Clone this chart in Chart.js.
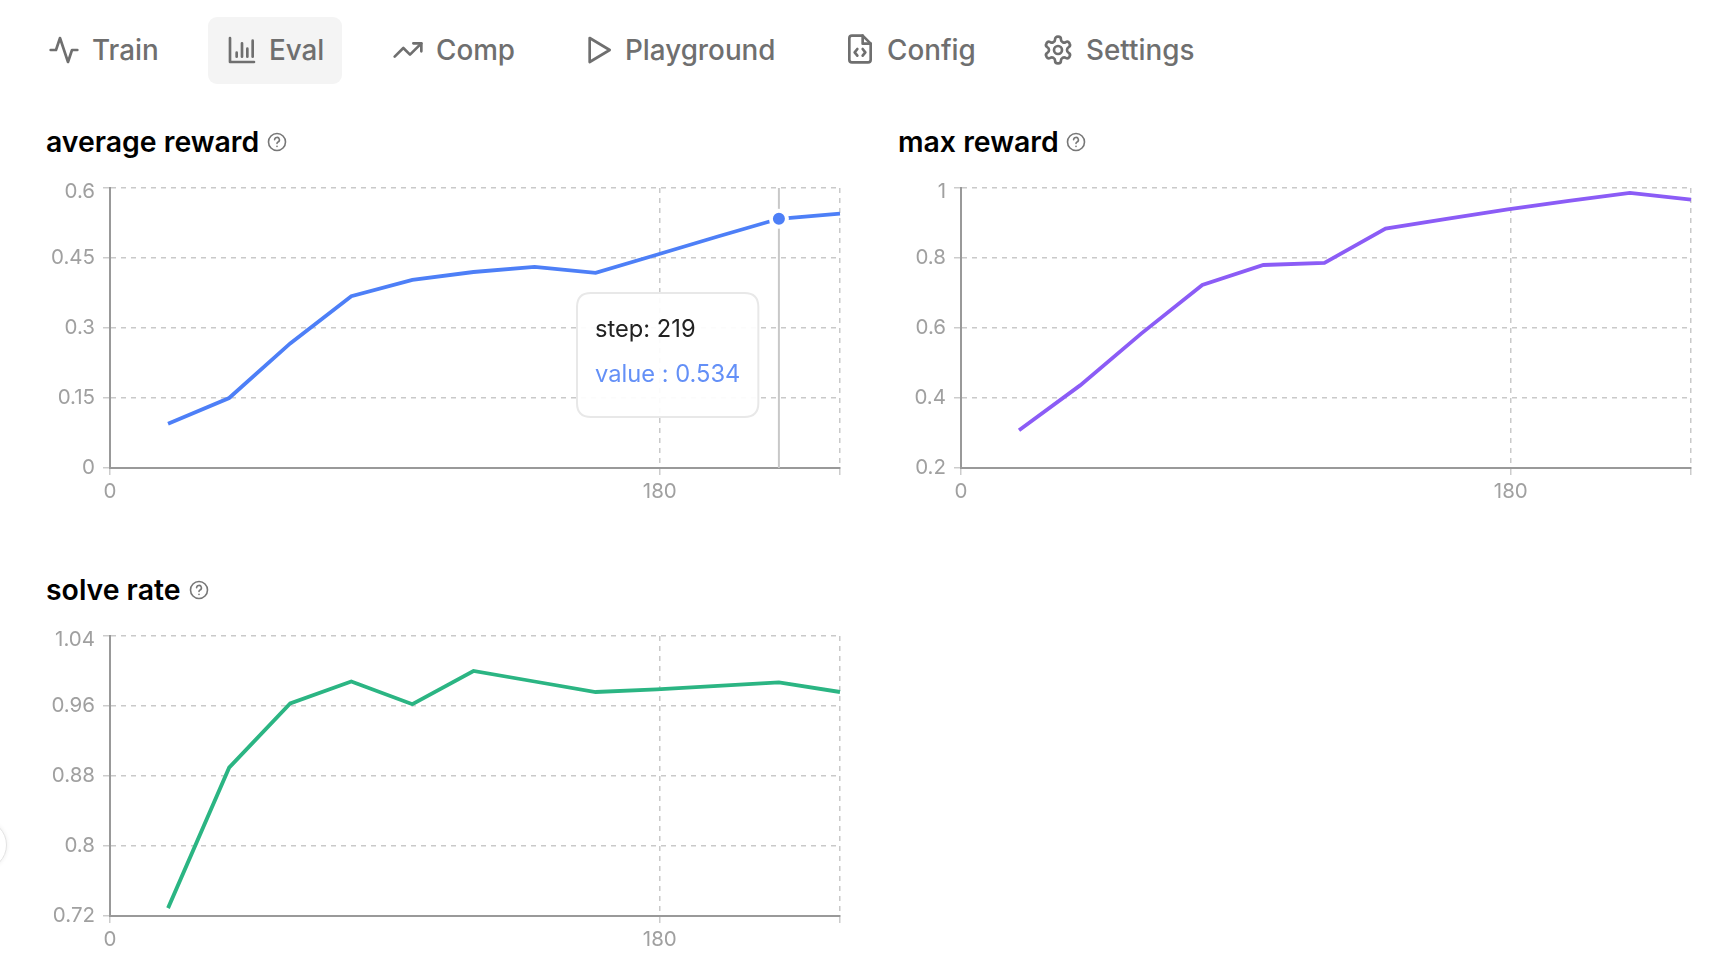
<!DOCTYPE html>
<html>
<head>
<meta charset="utf-8">
<title>Eval</title>
<script src="https://cdn.jsdelivr.net/npm/chart.js@4/dist/chart.umd.min.js"></script>
<style>
  html, body { margin: 0; padding: 0; background: #fff; overflow: hidden; }
  body { width: 1736px; height: 978px; position: relative; font-family: Inter, sans-serif; }
  .abs { position: absolute; }
  .tab-bg { left: 208px; top: 17px; width: 134px; height: 67px; background: #f4f4f4; border-radius: 9px; }
  .tab { font-size: 27.8px; font-weight: 500; color: #6f6f6f; top: 33px; line-height: 34px; white-space: nowrap; }
  .icon { stroke: #6f6f6f; fill: none; stroke-width: 2; stroke-linecap: round; stroke-linejoin: round; }
  .title { font-size: 28.4px; font-weight: 600; color: #000; line-height: 34px; white-space: nowrap; }
  .help { stroke: #777; fill: none; stroke-width: 1.6; stroke-linecap: round; stroke-linejoin: round; }
  canvas { position: absolute; }
  .bump { left: -43px; top: 820px; width: 48px; height: 48px; border-radius: 50%; background: #fff; border: 1px solid #e4e4e4; box-shadow: 0 0 4px rgba(0,0,0,.08); }
</style>
</head>
<body>
  <div class="abs tab-bg"></div>

  <svg class="abs icon" style="left:48px;top:34px" width="32" height="32" viewBox="0 0 24 24"><path d="M22 12h-4l-3 9L9 3l-3 9H2"/></svg>
  <div class="abs tab" style="left:92px">Train</div>

  <svg class="abs icon" style="left:226px;top:34px" width="32" height="32" viewBox="0 0 24 24"><path d="M3 3v18h18"/><path d="M8 17v-3M12 17V7M16 17v-6M20 17V5"/></svg>
  <div class="abs tab" style="left:269px">Eval</div>

  <svg class="abs icon" style="left:392px;top:34px" width="32" height="32" viewBox="0 0 24 24"><path d="M22 7l-8.5 8.5-5-5L2 17"/><path d="M16 7h6v6"/></svg>
  <div class="abs tab" style="left:436px">Comp</div>

  <svg class="abs icon" style="left:583px;top:34px" width="32" height="32" viewBox="0 0 24 24"><path d="M5 3l15 9-15 9V3z"/></svg>
  <div class="abs tab" style="left:625px">Playground</div>

  <svg class="abs icon" style="left:844px;top:33px" width="32" height="32" viewBox="0 0 24 24"><path d="M14 2H6a2 2 0 0 0-2 2v16a2 2 0 0 0 2 2h12a2 2 0 0 0 2-2V8z"/><path d="M14 2v6h6"/><path d="M10 12l-2 2.5 2 2.5M14 12l2 2.5-2 2.5"/></svg>
  <div class="abs tab" style="left:887px">Config</div>

  <svg class="abs icon" style="left:1042px;top:34px" width="32" height="32" viewBox="0 0 24 24"><path d="M12.2 2h-.4a2 2 0 0 0-2 2v.2a2 2 0 0 1-1 1.7l-.4.3a2 2 0 0 1-2 0l-.2-.1a2 2 0 0 0-2.7.7l-.2.4a2 2 0 0 0 .7 2.7l.2.1a2 2 0 0 1 1 1.7v.5a2 2 0 0 1-1 1.8l-.2.1a2 2 0 0 0-.7 2.7l.2.4a2 2 0 0 0 2.7.7l.2-.1a2 2 0 0 1 2 0l.4.3a2 2 0 0 1 1 1.7v.2a2 2 0 0 0 2 2h.4a2 2 0 0 0 2-2v-.2a2 2 0 0 1 1-1.7l.4-.3a2 2 0 0 1 2 0l.2.1a2 2 0 0 0 2.7-.7l.2-.4a2 2 0 0 0-.7-2.7l-.2-.1a2 2 0 0 1-1-1.8v-.5a2 2 0 0 1 1-1.7l.2-.1a2 2 0 0 0 .7-2.7l-.2-.4a2 2 0 0 0-2.7-.7l-.2.1a2 2 0 0 1-2 0l-.4-.3a2 2 0 0 1-1-1.7V4a2 2 0 0 0-2-2z"/><circle cx="12" cy="12" r="3"/></svg>
  <div class="abs tab" style="left:1086px">Settings</div>

  <div class="abs title" style="left:46px;top:125px">average reward</div>
  <svg class="abs help" style="left:267px;top:132px" width="20" height="20" viewBox="0 0 20 20"><circle cx="10" cy="10" r="8.5"/><path d="M7.6 7.8a2.4 2.4 0 1 1 3.4 2.2c-.7.3-1 .7-1 1.5"/><path d="M10 14.4v.1"/></svg>

  <div class="abs title" style="left:898px;top:125px">max reward</div>
  <svg class="abs help" style="left:1066px;top:132px" width="20" height="20" viewBox="0 0 20 20"><circle cx="10" cy="10" r="8.5"/><path d="M7.6 7.8a2.4 2.4 0 1 1 3.4 2.2c-.7.3-1 .7-1 1.5"/><path d="M10 14.4v.1"/></svg>

  <div class="abs title" style="left:46px;top:573px">solve rate</div>
  <svg class="abs help" style="left:189px;top:580px" width="20" height="20" viewBox="0 0 20 20"><circle cx="10" cy="10" r="8.5"/><path d="M7.6 7.8a2.4 2.4 0 1 1 3.4 2.2c-.7.3-1 .7-1 1.5"/><path d="M10 14.4v.1"/></svg>

  <canvas id="avgChart" style="left:30px;top:170px"></canvas>
  <canvas id="maxChart" style="left:881px;top:170px"></canvas>
  <canvas id="solveChart" style="left:30px;top:618px"></canvas>

  <div class="abs bump"></div>

<script>
// values
const steps = [19, 39, 59, 79, 99, 119, 139, 159, 179, 199, 219, 239];
const avgReward = [0.095, 0.15, 0.267, 0.368, 0.403, 0.42, 0.431, 0.418, 0.457, 0.496, 0.534, 0.545];
const maxReward = [0.308, 0.436, 0.584, 0.723, 0.78, 0.786, 0.884, 0.912, 0.939, 0.963, 0.986, 0.967];
const solveRate = [0.729, 0.8895, 0.963, 0.988, 0.962, 1.0, 0.988, 0.976, 0.979, 0.983, 0.987, 0.976];

const xTicks = [0, 180, 239];
const xLabels = ['0', '180', ''];
const avgTicks = [0, 0.15, 0.3, 0.45, 0.6];
const maxTicks = [0.2, 0.4, 0.6, 0.8, 1];
const solveTicks = [0.72, 0.8, 0.88, 0.96, 1.04];

const activeIndex = 10; // step 219 on the first chart

// crosshair under the hovered point
const crosshair = {
  id: 'crosshair',
  beforeDatasetsDraw(chart) {
    const active = chart.getActiveElements();
    if (!active.length) return;
    const { ctx, chartArea } = chart;
    ctx.save();
    ctx.strokeStyle = '#c8c8c8';
    ctx.lineWidth = 2;
    ctx.beginPath();
    ctx.moveTo(active[0].element.x, chartArea.top);
    ctx.lineTo(active[0].element.x, chartArea.bottom);
    ctx.stroke();
    ctx.restore();
  }
};

Chart.Tooltip.positioners.fixedBox = function (items) {
  if (!items.length) return false;
  return { x: this.chart.chartArea.left + 467, y: this.chart.chartArea.top + 167 };
};

function makeChart(id, values, yTicks, color) {
  const canvas = document.getElementById(id);
  canvas.width = 815;
  canvas.height = 332;
  canvas.style.width = '815px';
  canvas.style.height = '332px';
  const topIndex = yTicks.length - 1;
  return new Chart(canvas, {
    type: 'line',
    data: {
      datasets: [{
        data: steps.map((s, i) => ({ x: s, y: values[i] })),
        borderColor: color,
        backgroundColor: color,
        borderWidth: 3.8,
        tension: 0,
        pointRadius: 0,
        pointHoverRadius: 8,
        pointHoverBackgroundColor: color,
        pointHoverBorderColor: '#fff',
        pointHoverBorderWidth: 4,
        clip: false
      }]
    },
    options: {
      responsive: false,
      animation: false,
      events: [],
      layout: { padding: { top: 18, right: 0, left: 0, bottom: 0 } },
      plugins: {
        legend: { display: false },
        tooltip: {
          position: 'fixedBox',
          xAlign: 'left',
          yAlign: 'center',
          caretSize: 0,
          caretPadding: 0,
          backgroundColor: 'rgba(255,255,255,0.92)',
          borderColor: '#e8e8e8',
          borderWidth: 2,
          cornerRadius: 14,
          displayColors: false,
          padding: { left: 18, right: 18, top: 23, bottom: 28 },
          titleColor: '#222',
          titleFont: { family: 'Inter', size: 23.7, weight: '400' },
          titleMarginBottom: 16,
          bodyColor: '#6490f7',
          bodyFont: { family: 'Inter', size: 23.7, weight: '400' },
          callbacks: {
            title: items => 'step: ' + items[0].parsed.x,
            label: item => 'value : ' + item.parsed.y
          }
        }
      },
      scales: {
        x: {
          type: 'linear',
          min: xTicks[0],
          max: xTicks[xTicks.length - 1],
          afterBuildTicks(axis) { axis.ticks = xTicks.map(v => ({ value: v })); },
          afterFit(axis) { axis.height = 34; },
          grid: { color: '#c9c9c9', lineWidth: 1.5, tickLength: 7, tickColor: '#cccccc', tickWidth: 1.5, tickBorderDash: [] },
          border: { color: '#999', width: 2, dash: [5, 5] },
          ticks: {
            color: '#a0a0a0',
            font: { family: 'Inter', size: 20.5 },
            padding: 5,
            maxRotation: 0,
            autoSkip: false,
            callback(v) { return xLabels[xTicks.indexOf(v)]; }
          }
        },
        y: {
          type: 'linear',
          min: yTicks[0],
          max: yTicks[topIndex],
          afterBuildTicks(axis) { axis.ticks = yTicks.map(v => ({ value: v })); },
          afterFit(axis) { axis.width = 80; },
          grid: { color: '#c9c9c9', lineWidth: 1.5, tickLength: 7, tickColor: '#cccccc', tickWidth: 1.5, tickBorderDash: [] },
          border: { color: '#999', width: 2, dash: [5, 5] },
          ticks: {
            color: '#a0a0a0',
            // top label sits a little below its grid line, done with an empty first line
            font: ctx => ({ family: 'Inter', size: 20.5, lineHeight: ctx.index === topIndex ? 0.4 : 1.2 }),
            padding: 8,
            autoSkip: false,
            callback(v, i) { return i === topIndex ? ['', String(v)] : String(v); }
          }
        }
      }
    },
    plugins: [crosshair]
  });
}

const avgChart = makeChart('avgChart', avgReward, avgTicks, '#4d7ff7');
makeChart('maxChart', maxReward, maxTicks, '#8b5cf6');
makeChart('solveChart', solveRate, solveTicks, '#2bb583');

// hover state of the reference: point at step 219
const activePoint = avgChart.getDatasetMeta(0).data[activeIndex];
avgChart.setActiveElements([{ datasetIndex: 0, index: activeIndex }]);
avgChart.tooltip.setActiveElements([{ datasetIndex: 0, index: activeIndex }], { x: activePoint.x, y: activePoint.y });
avgChart.update();
</script>
</body>
</html>
